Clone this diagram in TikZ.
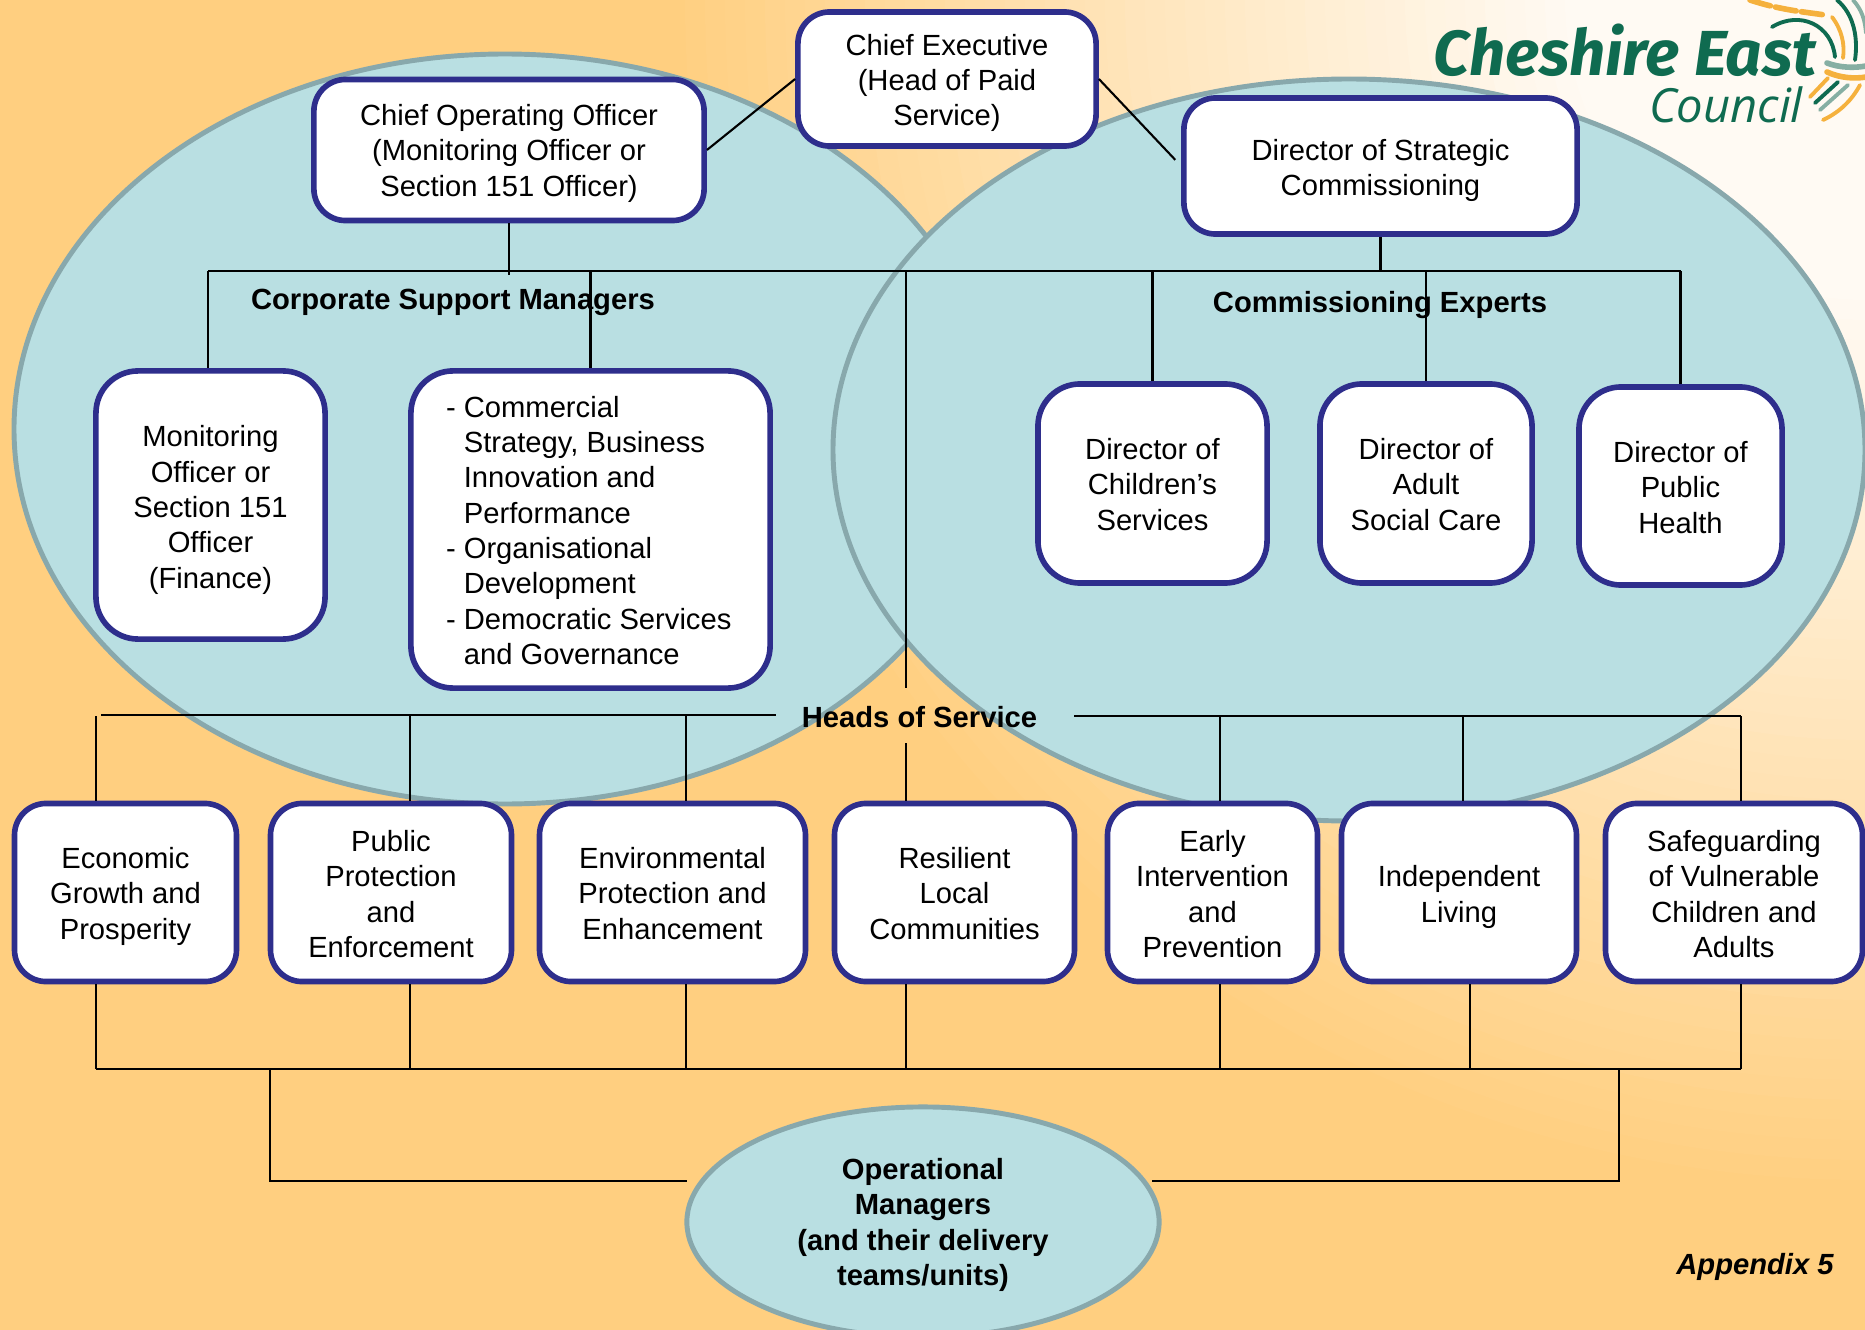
\documentclass[tikz,border=0pt]{standalone}
\usepackage{fontspec}
\setmainfont{Liberation Sans}
\newfontfamily\logofont{Fira Sans}
\newfontfamily\logothin{Open Sans}
\usetikzlibrary{shapes.geometric}
\definecolor{bgorange}{HTML}{FFCF80}
\definecolor{bgpale}{HTML}{FFFAF3}
\definecolor{blobfill}{HTML}{B9DFE2}
\definecolor{blobline}{HTML}{88A8AC}
\definecolor{boxline}{HTML}{2E2E8C}
\definecolor{logogreen}{HTML}{0F6B50}
\definecolor{logoorange}{HTML}{F5B13D}
\definecolor{logogrey}{HTML}{86AFA3}
\newcommand{\lift}[1]{\rule{0pt}{\dimexpr 6.1pt+#1\relax}}

\begin{document}
\begin{tikzpicture} [
                x=0.01cm,
                y=-0.01cm,
                every node/.style = {font=\fontsize{8.3}{10.04}\selectfont},
                blob/.style = {fill=blobfill,draw=blobline,line width=1.4pt},
                box/.style = {rectangle,draw=boxline,fill=white,line width=1.6pt,inner sep=0pt,
                    rounded corners=9pt,align=center},
                tall box/.style = {box,rounded corners=12pt},
                oval/.style = {ellipse,blob,inner sep=0pt,align=center,
                    font=\fontsize{8.3}{10.04}\selectfont\bfseries},
                heading/.style = {font=\fontsize{8.3}{10.04}\selectfont\bfseries,inner sep=0pt},
                edge/.style = {draw,line width=0.6pt,-},
                swoosh/.style = {draw,line width=1.1pt,line cap=round}
            ]
        \useasboundingbox (0,0) rectangle (1865,1330);
        \clip (0,0) rectangle (1865,1330);
        % First the background and the two big ellipses
            \fill[bgorange] (0,0) rectangle (1865,1330);
            \foreach \r in {1200,1180,...,300} {
                \pgfmathtruncatemacro{\pct}{(\r-300)/9}
                \fill[bgorange!\pct!bgpale] (1865,0) circle (\r);
            }
            \path[blob] (505,429) ellipse [x radius=491,y radius=375];
            \path[blob] (1349,450) ellipse [x radius=516,y radius=371];
        % Logo
            \node (cheshire) at (1625,50) {\fontsize{18.1}{20}\logofont\bfseries\itshape\color{logogreen}Cheshire East};
            \node (council) at (1726,105) {\fontsize{13.4}{16}\logothin\itshape\color{logogreen}Council};
            \path[swoosh,logogreen] (1772,27) .. controls (1800,10) and (1832,25) .. (1835,57);
            \path[swoosh,logoorange] (1832,17) .. controls (1842,30) and (1845,45) .. (1843,58);
            \path[swoosh,logogreen] (1837,0) .. controls (1855,15) and (1858,40) .. (1855,60);
            \path[swoosh,logogrey] (1853,0) .. controls (1862,10) and (1865,20) .. (1866,33);
            \path[swoosh,logoorange,line width=1.6pt,dash pattern=on 6pt off 1.5pt] (1750,0) .. controls (1780,10) and (1805,12) .. (1825,15);
            \path[swoosh,logogrey,line width=1.6pt] (1827,63) .. controls (1840,68) and (1855,68) .. (1866,66);
            \path[swoosh,logoorange,line width=1.6pt] (1827,72) .. controls (1840,78) and (1855,79) .. (1866,77);
            \path[swoosh,logoorange] (1810,97) -- (1828,78);
            \path[swoosh,logogreen] (1815,103) -- (1838,82);
            \path[swoosh,logogrey] (1820,110) -- (1848,85);
            \path[swoosh,logoorange] (1823,120) .. controls (1840,112) and (1852,100) .. (1860,85);
        % Top rows of boxes
            \node[box,minimum width=2.98cm,minimum height=1.34cm] (ce) at (947,79) {\lift{2.2pt}Chief Executive\\(Head of Paid\\Service)};
            \node[box,minimum width=3.9cm,minimum height=1.41cm] (coo) at (509,150) {\lift{1.7pt}Chief Operating Officer\\(Monitoring Officer or\\Section 151 Officer)};
            \node[box,minimum width=3.93cm,minimum height=1.36cm] (ds) at (1380.5,166) {\lift{2.4pt}Director of Strategic\\Commissioning};
            \node[tall box,minimum width=2.29cm,minimum height=2.68cm] (monitoring) at (210.5,505) {\lift{2.7pt}Monitoring\\Officer or\\Section 151\\Officer\\(Finance)};
            \node[tall box,minimum width=3.59cm,minimum height=3.17cm,align=left] (commercial) at (590.5,529.5) {\lift{0.4pt}- Commercial\\\hphantom{- }Strategy, Business\\\hphantom{- }Innovation and\\\hphantom{- }Performance\\- Organisational\\\hphantom{- }Development\\- Democratic Services\rule{1pt}{0pt}\\\hphantom{- }and Governance};
            \node[tall box,minimum width=2.29cm,minimum height=1.99cm] (children) at (1152.5,483.5) {\lift{0.4pt}Director of\\Children’s\\Services};
            \node[tall box,minimum width=2.12cm,minimum height=1.99cm] (adult) at (1426,483.5) {\lift{0.4pt}Director of\\Adult\\Social Care};
            \node[tall box,minimum width=2.03cm,minimum height=1.98cm] (health) at (1680.5,486) {\lift{0.7pt}Director of\\Public\\Health};
        % Heads of service row, with the places where its lines come in
            \foreach \cx/\w/\name/\up/\down/\label in {
                125.5/222/econ/95.7/95.7/{\lift{2pt}Economic\\Growth and\\Prosperity},
                391/241/pubprot/410/410/{\lift{0.8pt}Public\\Protection\\and\\Enforcement},
                672.5/266/env/686/686/{\lift{0.4pt}Environmental\\Protection and\\Enhancement},
                954.5/240/resilient/906/906/{\lift{0.4pt}Resilient\\Local\\Communities},
                1212.5/210/early/1220/1220/{\lift{0.8pt}Early\\Intervention\\and\\Prevention},
                1459/235/indep/1463/1470/{\lift{2.4pt}Independent\\Living},
            1734/257/safeguard/1741/1741/{\lift{0.8pt}Safeguarding\\of Vulnerable\\Children and\\Adults}} {
                \node[box,minimum width=\w*0.01cm,minimum height=1.78cm] (\name) at (\cx,892.5) {\label};
                \coordinate (\name-up) at (\up,716);
                \coordinate (\name-down) at (\down,1069);
            }
            \node[oval,minimum width=4.72cm,minimum height=2.3cm] (opman) at (923,1222) {\lift{1.6pt}Operational\\Managers\\(and their delivery\\teams/units)};
        % Headings
            \node[heading] (corporate) at (453,302) {Corporate Support Managers};
            \node[heading] (commissioning) at (1380,305.5) {Commissioning Experts};
            \node[heading] (heads) at (919.5,717) {Heads of Service};
            \node[heading,font=\fontsize{8.3}{10.04}\selectfont\bfseries\itshape] (appendix) at (1755,1266.5) {Appendix 5};
        % Loose ends of the lines
            \coordinate (topbus) at (208,271);
            \coordinate (topbusend) at (1681,271);
            \coordinate (hub) at (906,271);
            \coordinate (hubend) at (906,688);
            \coordinate (headsin) at (906,743);
            \coordinate (leftbus) at (101,715);
            \coordinate (leftbusend) at (776,715);
            \coordinate (rightbus) at (1074,716);
            \coordinate (lowbusleft) at (270,1069);
            \coordinate (lowbusright) at (1619,1069);
            \coordinate (opleft) at (687,1181);
            \coordinate (opright) at (1152,1181);
        % Connect the boxes
            \path[edge] (ce.west) -- (coo.east);
            \path[edge,shorten >=2.4pt] (ce.east) -- (ds.west);
            \path[edge] (topbus) -- (topbusend);
            \path[edge] (coo.south) -- ++(0,52);
            \path[edge] (ds.south) -- (ds.south |- topbus);
            \path[edge] (hub) -- (hubend);
            \path[edge] (topbus) -- (topbus |- monitoring.north);
            \foreach \name in {commercial, children, adult, health}
            \path[edge] (\name.north) -- (\name.north |- topbus);
            \path[edge] (leftbus) -- (leftbusend);
            \path[edge] (rightbus) -- (safeguard-up);
            \path[edge] (headsin) -- (headsin |- resilient.north);
            \foreach \name in {econ, pubprot, env, early, indep, safeguard}
            \path[edge] (\name-up) -- (\name-up |- \name.north);
            \foreach \name in {econ, pubprot, env, resilient, early, indep, safeguard}
            \path[edge] (\name-down) -- (\name-down |- \name.south);
            \path[edge] (econ-down) -- (safeguard-down);
            \path[edge] (lowbusleft) |- (opleft);
            \path[edge] (lowbusright) |- (opright);
        \end{tikzpicture}
\end{document}
